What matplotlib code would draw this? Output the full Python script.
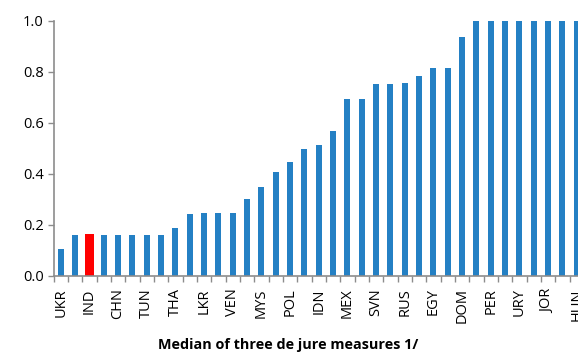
import matplotlib
matplotlib.use("Agg")
import matplotlib.pyplot as plt
from matplotlib.ticker import FixedLocator, MultipleLocator

plt.rcParams["font.family"] = ["Open Sans", "DejaVu Sans"]

# wartości słupków (37 krajów, posortowane rosnąco)
wartosci = [0.105, 0.159, 0.165, 0.159, 0.159, 0.159, 0.159, 0.159, 0.186, 0.243,
            0.248, 0.248, 0.248, 0.302, 0.349, 0.406, 0.446, 0.499, 0.513, 0.567,
            0.693, 0.693, 0.754, 0.754, 0.757, 0.783, 0.814, 0.814, 0.937, 1.0,
            1.0, 1.0, 1.0, 1.0, 1.0, 1.0, 1.0]
# podpisy co drugiego słupka
etykiety = ["UKR", "IND", "CHN", "TUN", "THA", "LKR", "VEN", "MYS", "POL", "IDN",
            "MEX", "SVN", "RUS", "EGY", "DOM", "PER", "URY", "JOR", "HUN"]
wyrozniony = 2  # IND

kolory = ["#FF0000" if i == wyrozniony else "#2480C4" for i in range(len(wartosci))]
szerokosci = [0.65 if i == wyrozniony else 0.42 for i in range(len(wartosci))]
szary = "#8C8C8C"

fig = plt.figure(figsize=(5.78, 3.54), dpi=100)
ax = fig.add_axes([0.0927, 0.221, 0.9175, 0.720])
ax.bar(range(len(wartosci)), wartosci, width=szerokosci, color=kolory)

ax.set_xlim(-0.5, len(wartosci) - 0.5)
ax.set_ylim(0, 1.0)
ax.yaxis.set_major_locator(MultipleLocator(0.2))
ax.yaxis.set_major_formatter(plt.FormatStrFormatter("%.1f"))

# etykiety pod co drugim słupkiem, kreski między kategoriami
ax.set_xticks(range(0, len(wartosci), 2))
ax.set_xticklabels(etykiety, rotation=90, fontsize=10.5)
ax.tick_params(axis="x", which="major", length=0, pad=9)
ax.xaxis.set_minor_locator(FixedLocator([i - 0.5 for i in range(len(wartosci) + 1)]))
ax.tick_params(axis="x", which="minor", length=4, color=szary, width=1)
ax.tick_params(axis="y", length=4, color=szary, width=1, labelsize=10.5, pad=3)

for s in ["top", "right"]:
    ax.spines[s].set_visible(False)
for s in ["left", "bottom"]:
    ax.spines[s].set_color(szary)
    ax.spines[s].set_linewidth(1.2)

fig.text(0.498, 0.006, "Median of three de jure measures 1/", ha="center",
         va="bottom", fontsize=10.4, fontweight="bold")

fig.savefig("out.png", dpi=100)
